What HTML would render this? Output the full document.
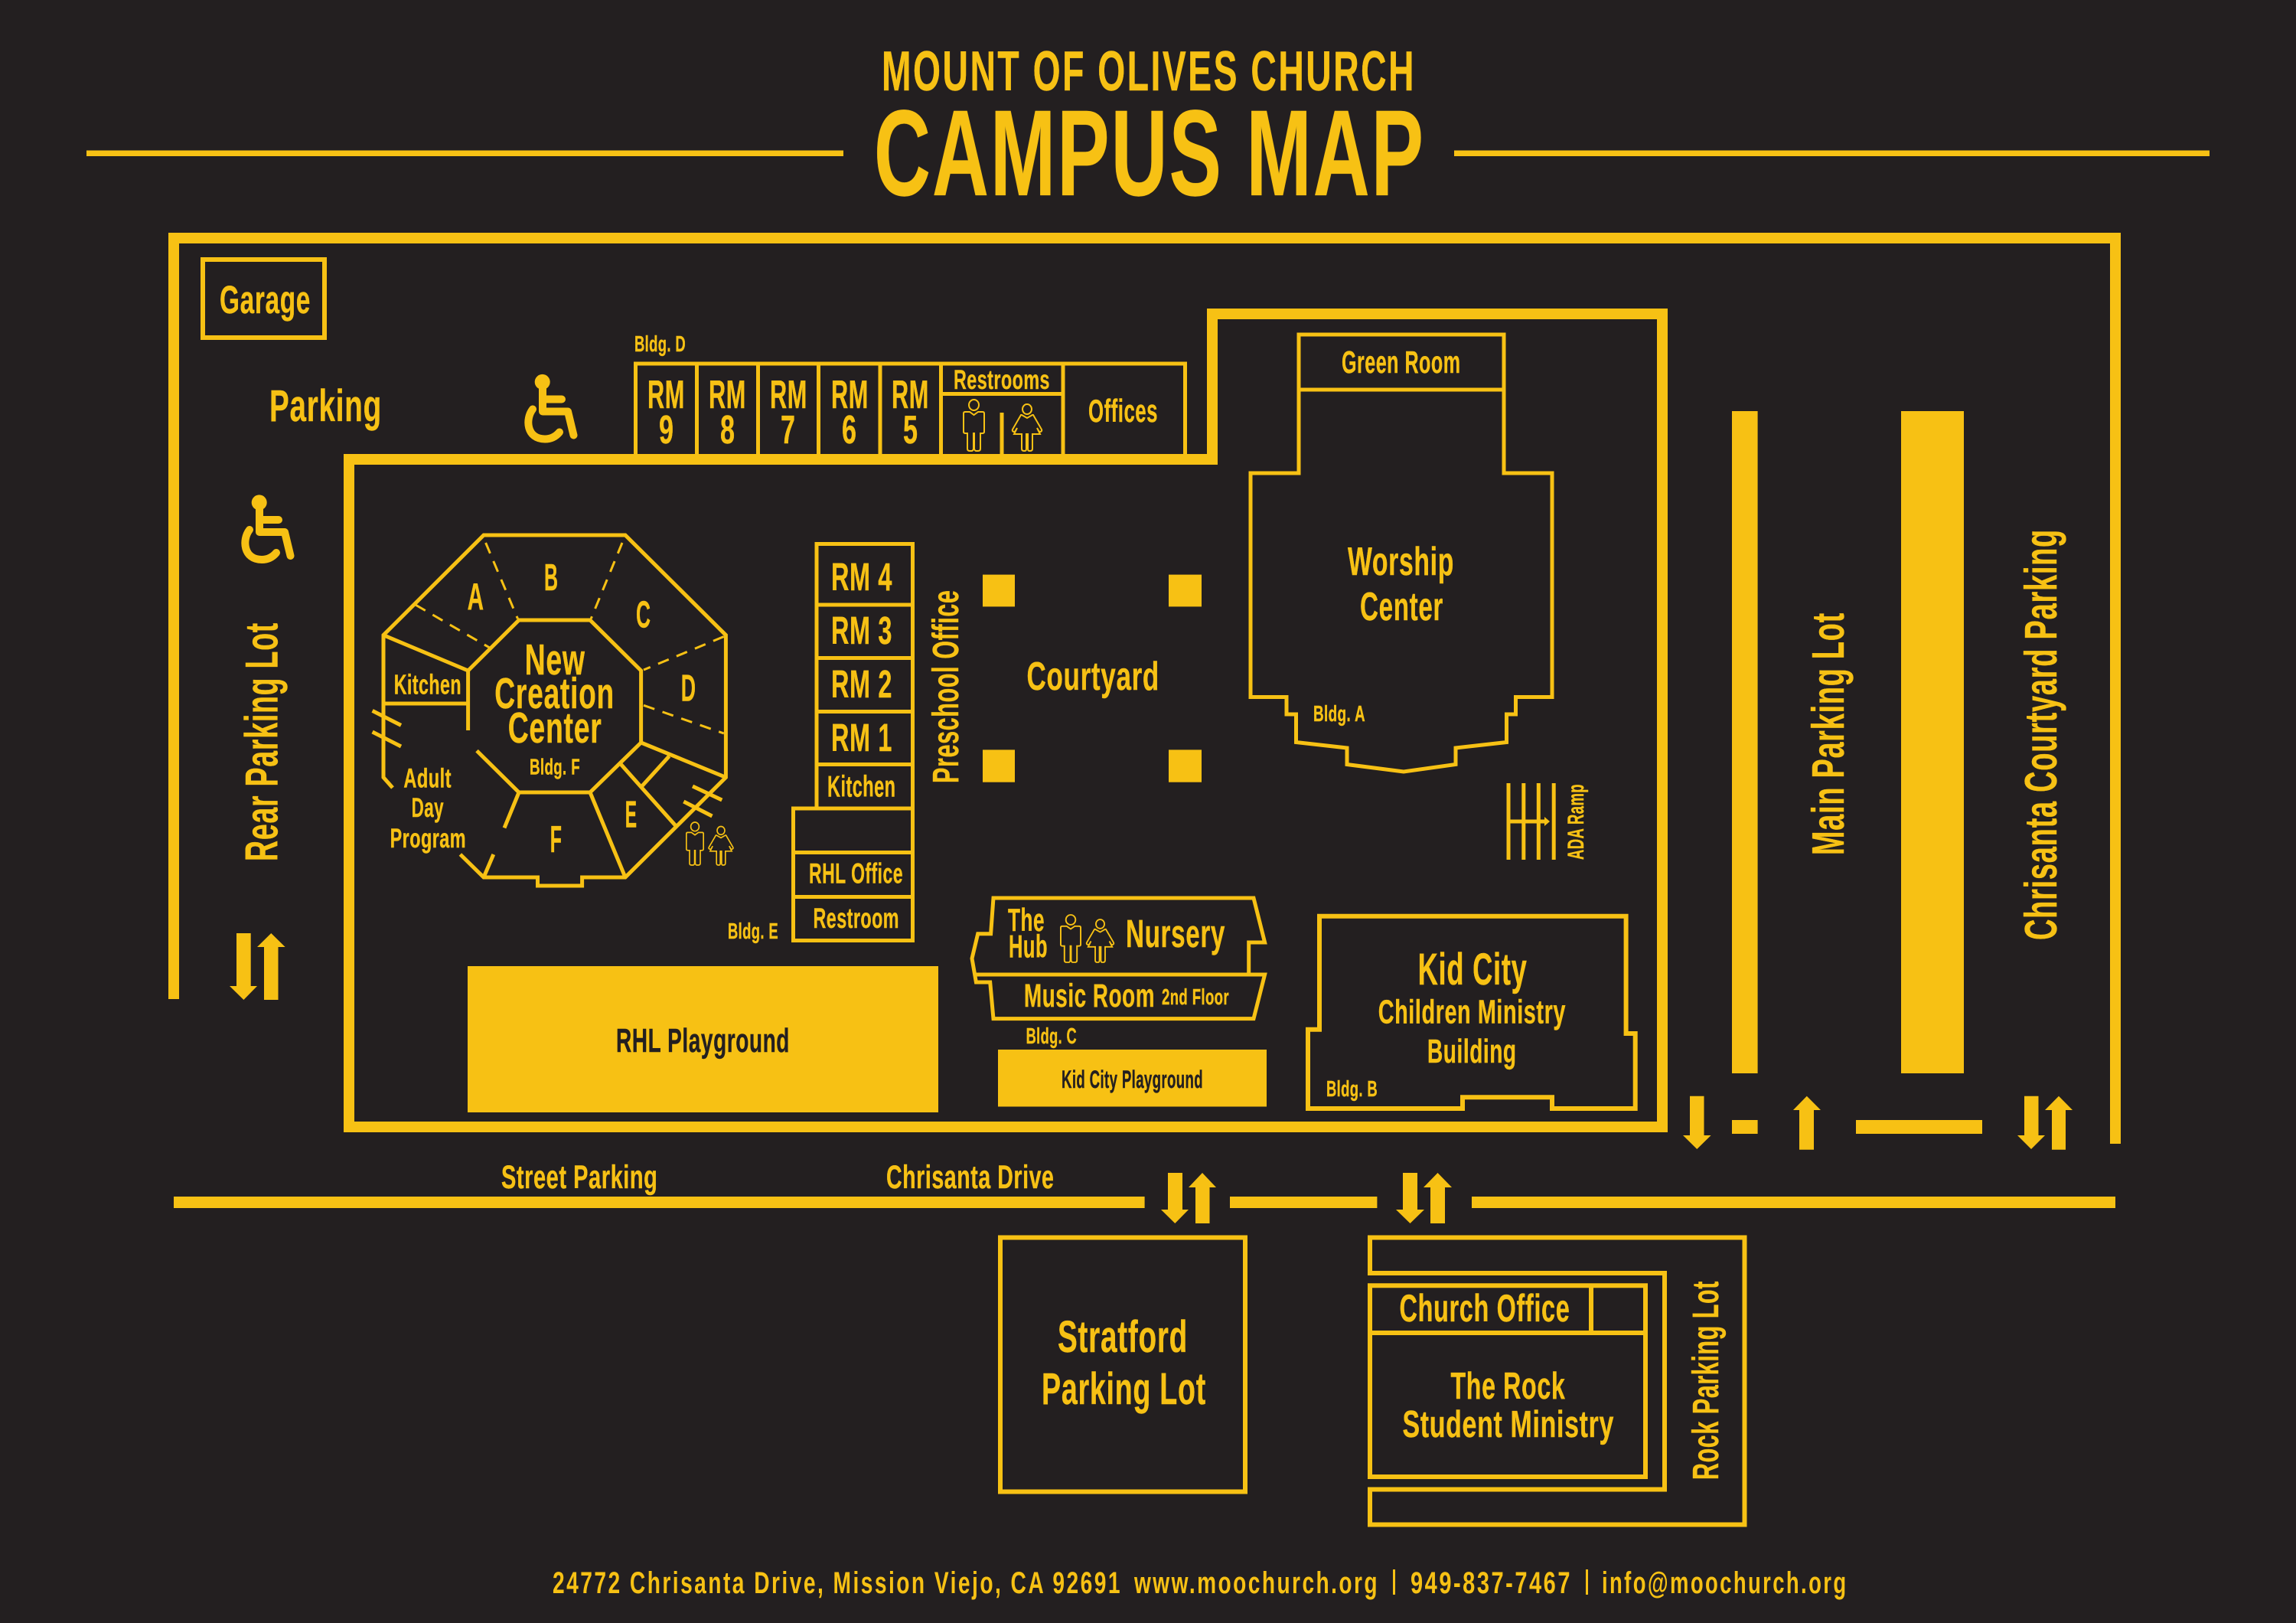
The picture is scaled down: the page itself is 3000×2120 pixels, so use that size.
<!DOCTYPE html>
<html lang="en">
<head>
<meta charset="utf-8">
<title>Mount of Olives Church Campus Map</title>
<style>
html,body{margin:0;padding:0;background:#231f20;width:3000px;height:2120px;overflow:hidden}
svg{display:block}
text{font-family:"Liberation Sans Narrow","Liberation Sans",sans-serif;font-weight:700;fill:#f7c114;stroke:#f7c114;stroke-width:.4px;letter-spacing:.02em}
text.d{fill:#231f20;stroke:#231f20}
text.o{letter-spacing:0}
text.ft{letter-spacing:3.5px;stroke-width:0}
text.tt{letter-spacing:4px}
.s5{fill:none;stroke:#f7c114;stroke-width:5}
.s6{fill:none;stroke:#f7c114;stroke-width:6}
.s14{fill:none;stroke:#f7c114;stroke-width:14}
.dash{fill:none;stroke:#f7c114;stroke-width:3;stroke-dasharray:15 11}
.f{fill:#f7c114}
.p{fill:none;stroke:#f7c114;stroke-width:2}
</style>
</head>
<body>
<svg width="3000" height="2120" viewBox="0 0 3000 2120" xmlns="http://www.w3.org/2000/svg">
<defs>
<symbol id="man" viewBox="0 0 29 67" preserveAspectRatio="none" overflow="visible">
<ellipse class="p" cx="14.5" cy="7" rx="6.5" ry="7"/>
<path class="p" d="M1 18Q1 16 3 16H9L14.5 20L20 16H26Q28 16 28 18V42Q28 44 25 44H23V64Q23 67 20 67H17.5Q15.5 67 15 64V44H14V64Q13.5 67 11.5 67H9Q6 67 6 64V44H4Q1 44 1 42Z"/>
</symbol>
<symbol id="woman" viewBox="0 0 40 61" preserveAspectRatio="none" overflow="visible">
<ellipse class="p" cx="20" cy="6.5" rx="6" ry="6.5"/>
<path class="p" d="M13 14L20 18L27 14H28L39 33Q40 36 36 36L33 31L37 39H27V58Q27 61 24 61H23Q21 61 21 58V39H19V58Q19 61 17 61H16Q13 61 13 58V39H3L7 31L4 36Q0 36 1 33L12 14Z"/>
</symbol>
<g id="wc">
<circle class="f" cx="338.7" cy="656.4" r="10"/>
<path d="M339 660V695H372L379.5 726M339 679H364M326 692C316 705 318 731 342 731C350 731 356 728 361 722" fill="none" stroke="#f7c114" stroke-width="10" stroke-linecap="round" stroke-linejoin="round"/>
</g>
</defs>

<rect width="3000" height="2120" fill="#231f20"/>

<!-- Header -->
<text class="tt" x="1152" y="118" font-size="73" textLength="698" lengthAdjust="spacingAndGlyphs">MOUNT OF OLIVES CHURCH</text>
<text x="1142" y="255" font-size="160" textLength="720" lengthAdjust="spacingAndGlyphs">CAMPUS MAP</text>
<rect class="f" x="113" y="196.5" width="989" height="7.5"/>
<rect class="f" x="1900" y="196.5" width="987" height="7.5"/>

<!-- Outer site wall -->
<path class="s14" d="M227 1305V311H2764V1494"/>

<!-- Main building wall -->
<path class="s14" d="M456 600H1584V410H2172V1472H456Z"/>

<!-- Garage -->
<rect class="s6" x="265" y="339" width="159" height="102"/>
<text x="287" y="409" font-size="51" textLength="119" lengthAdjust="spacingAndGlyphs">Garage</text>
<text x="352" y="550" font-size="58" textLength="147" lengthAdjust="spacingAndGlyphs">Parking</text>

<!-- Wheelchair -->
<use href="#wc"/>
<use href="#wc" transform="translate(370,-157.5)"/>

<!-- Bldg D -->
<text x="829" y="459" font-size="29" textLength="67" lengthAdjust="spacingAndGlyphs">Bldg. D</text>
<path class="s5" d="M830.5 593V475H1548.5V593M910.5 475V593M990.5 475V593M1069.5 475V593M1150 475V593M1229.5 475V593M1389 475V593M1229.5 514.5H1389M1309 539V593"/>
<text x="846" y="533" font-size="52" textLength="49" lengthAdjust="spacingAndGlyphs">RM</text>
<text x="926" y="533" font-size="52" textLength="49" lengthAdjust="spacingAndGlyphs">RM</text>
<text x="1006" y="533" font-size="52" textLength="49" lengthAdjust="spacingAndGlyphs">RM</text>
<text x="1086" y="533" font-size="52" textLength="49" lengthAdjust="spacingAndGlyphs">RM</text>
<text x="1165" y="533" font-size="52" textLength="49" lengthAdjust="spacingAndGlyphs">RM</text>
<text class="o" x="861" y="579" font-size="52" textLength="19" lengthAdjust="spacingAndGlyphs">9</text>
<text class="o" x="941" y="579" font-size="52" textLength="19" lengthAdjust="spacingAndGlyphs">8</text>
<text class="o" x="1020" y="579" font-size="52" textLength="19" lengthAdjust="spacingAndGlyphs">7</text>
<text class="o" x="1100" y="579" font-size="52" textLength="19" lengthAdjust="spacingAndGlyphs">6</text>
<text class="o" x="1180" y="579" font-size="52" textLength="19" lengthAdjust="spacingAndGlyphs">5</text>
<text x="1246" y="508" font-size="35" textLength="126" lengthAdjust="spacingAndGlyphs">Restrooms</text>
<text x="1422" y="551" font-size="42" textLength="91" lengthAdjust="spacingAndGlyphs">Offices</text>
<use href="#man" x="1258" y="522" width="29" height="67"/>
<use href="#woman" x="1322" y="528" width="40" height="61"/>

<!-- Worship Center -->
<path class="s5" d="M1697 618V437H1965V618H2028V910.5H1980.5V933H1968.5V969.5L1902 977V998.5L1834 1008L1760 998.5V977L1693.5 969.5V933H1681V910.5H1634V618ZM1697 509H1965"/>
<text x="1753" y="487" font-size="41" textLength="155.5" lengthAdjust="spacingAndGlyphs">Green Room</text>
<text x="1761" y="751" font-size="52" textLength="139" lengthAdjust="spacingAndGlyphs">Worship</text>
<text x="1777" y="810" font-size="52" textLength="109" lengthAdjust="spacingAndGlyphs">Center</text>
<text x="1716" y="942" font-size="29" textLength="68" lengthAdjust="spacingAndGlyphs">Bldg. A</text>

<!-- ADA ramp -->
<path class="s5" d="M1971 1023V1123M1990.8 1023V1123M2010.3 1023V1123M2030.2 1023V1123M1971 1073H2019"/>
<polygon class="f" points="2018,1067 2025,1073 2018,1079"/>
<text transform="translate(2069,1123) rotate(-90)" font-size="30" textLength="99" lengthAdjust="spacingAndGlyphs">ADA Ramp</text>

<!-- Courtyard -->
<text x="1341.5" y="901" font-size="52" textLength="173.5" lengthAdjust="spacingAndGlyphs">Courtyard</text>
<rect class="f" x="1284" y="750.6" width="42" height="41.8"/>
<rect class="f" x="1527" y="750.6" width="43" height="41.8"/>
<rect class="f" x="1284" y="979.4" width="42" height="42.3"/>
<rect class="f" x="1527" y="979.4" width="43" height="42.3"/>
<text transform="translate(1252,1023) rotate(-90)" font-size="48" textLength="252.5" lengthAdjust="spacingAndGlyphs">Preschool Office</text>

<!-- Bldg E stack -->
<path class="s5" d="M1067 1056V710.5H1192.5V1228.5H1036.5V1056H1192.5M1067 790H1192.5M1067 859.5H1192.5M1067 929.5H1192.5M1067 998.5H1192.5M1036.5 1113.5H1192.5M1036.5 1171.5H1192.5"/>
<text x="1086" y="771" font-size="51" textLength="80" lengthAdjust="spacingAndGlyphs">RM 4</text>
<text x="1086" y="841" font-size="51" textLength="80" lengthAdjust="spacingAndGlyphs">RM 3</text>
<text x="1086" y="911" font-size="51" textLength="80" lengthAdjust="spacingAndGlyphs">RM 2</text>
<text x="1086" y="981" font-size="51" textLength="80" lengthAdjust="spacingAndGlyphs">RM 1</text>
<text x="1081" y="1040.6" font-size="38.5" textLength="89.5" lengthAdjust="spacingAndGlyphs">Kitchen</text>
<text x="1057" y="1153.5" font-size="37.5" textLength="123" lengthAdjust="spacingAndGlyphs">RHL Office</text>
<text x="1062.5" y="1212" font-size="37.5" textLength="112.5" lengthAdjust="spacingAndGlyphs">Restroom</text>
<text x="951" y="1226" font-size="29" textLength="66" lengthAdjust="spacingAndGlyphs">Bldg. E</text>

<!-- Playgrounds -->
<rect class="f" x="611" y="1262" width="615" height="191"/>
<text class="d" x="805" y="1374" font-size="44" textLength="227" lengthAdjust="spacingAndGlyphs">RHL Playground</text>
<rect class="f" x="1304" y="1371" width="351" height="74.5"/>
<text class="d" x="1387" y="1421" font-size="32" textLength="185" lengthAdjust="spacingAndGlyphs">Kid City Playground</text>

<!-- Bldg C -->
<path class="s5" d="M1298 1173H1638L1652.6 1231H1631.7V1273H1652.6L1638 1330.6H1298L1293.7 1283H1275.4L1270 1252L1277.7 1219.7H1294.6ZM1272 1273H1631.7"/>
<text x="1317" y="1216" font-size="42" textLength="48" lengthAdjust="spacingAndGlyphs">The</text>
<text x="1318" y="1250.5" font-size="42" textLength="51" lengthAdjust="spacingAndGlyphs">Hub</text>
<use href="#man" x="1385" y="1195" width="28" height="62"/>
<use href="#woman" x="1419" y="1201" width="37" height="56"/>
<text x="1471" y="1237" font-size="51" textLength="130" lengthAdjust="spacingAndGlyphs">Nursery</text>
<text x="1338" y="1315" font-size="43" textLength="171" lengthAdjust="spacingAndGlyphs">Music Room</text>
<text x="1518" y="1312" font-size="29" textLength="88" lengthAdjust="spacingAndGlyphs">2nd Floor</text>
<text x="1340.6" y="1363" font-size="29" textLength="66.4" lengthAdjust="spacingAndGlyphs">Bldg. C</text>

<!-- Kid City -->
<path class="s6" d="M1724 1344.7V1196.7H2124.6V1350H2136.7V1448H2028V1433.3H1911V1448H1709V1344.7Z"/>
<text x="1852.6" y="1286" font-size="58" textLength="143" lengthAdjust="spacingAndGlyphs">Kid City</text>
<text x="1800.7" y="1336.7" font-size="44" textLength="245.3" lengthAdjust="spacingAndGlyphs">Children Ministry</text>
<text x="1865" y="1388" font-size="44" textLength="116.6" lengthAdjust="spacingAndGlyphs">Building</text>
<text x="1733" y="1432" font-size="29" textLength="67" lengthAdjust="spacingAndGlyphs">Bldg. B</text>

<!-- Right parking -->
<rect class="f" x="2263" y="537" width="33.6" height="865"/>
<rect class="f" x="2484" y="537" width="82" height="865"/>
<rect class="f" x="2263" y="1463" width="33.6" height="18"/>
<rect class="f" x="2425" y="1463" width="165" height="18"/>
<text transform="translate(2409,1117) rotate(-90)" font-size="59" textLength="317" lengthAdjust="spacingAndGlyphs">Main Parking Lot</text>
<text transform="translate(2687,1228) rotate(-90)" font-size="59" textLength="537" lengthAdjust="spacingAndGlyphs">Chrisanta Courtyard Parking</text>
<text transform="translate(362.6,1125) rotate(-90)" font-size="60" textLength="312" lengthAdjust="spacingAndGlyphs">Rear Parking Lot</text>

<!-- Arrows -->
<g class="f">
<polygon points="309,1219 327.7,1219 327.7,1288 336,1288 318.4,1306 300,1288 309,1288"/>
<polygon points="354.3,1219 372.6,1237 363.5,1237 363.5,1306 345,1306 345,1237 336,1237"/>
<polygon points="2208,1431.7 2226.5,1431.7 2226.5,1483 2235.6,1483 2217.3,1501 2199,1483 2208,1483"/>
<polygon points="2360.8,1431.7 2379,1450 2370,1450 2370,1501.7 2351,1501.7 2351,1450 2343,1450"/>
<polygon points="2645,1431.7 2663.5,1431.7 2663.5,1483 2672,1483 2654,1501 2636,1483 2645,1483"/>
<polygon points="2690,1431.7 2708,1450 2699,1450 2699,1501.7 2681,1501.7 2681,1450 2672,1450"/>
<polygon points="1526,1532 1545,1532 1545,1580 1553,1580 1535.3,1598 1517,1580 1526,1580"/>
<polygon points="1571,1532 1589,1551 1580.5,1551 1580.5,1598 1562,1598 1562,1551 1553,1551"/>
<polygon points="1833,1532 1852,1532 1852,1580 1861,1580 1842.5,1598 1824,1580 1833,1580"/>
<polygon points="1878.5,1532 1897,1551 1888,1551 1888,1598 1869,1598 1869,1551 1860,1551"/>
</g>

<!-- Street -->
<rect class="f" x="227" y="1563" width="1268.6" height="15"/>
<rect class="f" x="1607" y="1563" width="192.4" height="15"/>
<rect class="f" x="1923" y="1563" width="841" height="15"/>
<text x="655" y="1552" font-size="43" textLength="204.4" lengthAdjust="spacingAndGlyphs">Street Parking</text>
<text x="1158" y="1552" font-size="43" textLength="219.5" lengthAdjust="spacingAndGlyphs">Chrisanta Drive</text>

<!-- Stratford -->
<rect class="s6" x="1307" y="1616.5" width="320" height="332"/>
<text x="1382" y="1766" font-size="58" textLength="170" lengthAdjust="spacingAndGlyphs">Stratford</text>
<text x="1361" y="1834" font-size="58" textLength="215" lengthAdjust="spacingAndGlyphs">Parking Lot</text>

<!-- Rock -->
<path class="s6" d="M1790 1663V1616.5H2279.5V1991.5H1790V1945.5H2175V1663Z"/>
<path class="s6" d="M1790 1679.3H2150V1929H1790ZM1790 1741H2150M2079 1679.3V1741"/>
<text x="1828.5" y="1726" font-size="50" textLength="222.9" lengthAdjust="spacingAndGlyphs">Church Office</text>
<text x="1895.5" y="1827" font-size="49" textLength="149.9" lengthAdjust="spacingAndGlyphs">The Rock</text>
<text x="1832.5" y="1877" font-size="49" textLength="276.5" lengthAdjust="spacingAndGlyphs">Student Ministry</text>
<text transform="translate(2245,1933) rotate(-90)" font-size="48" textLength="260" lengthAdjust="spacingAndGlyphs">Rock Parking Lot</text>

<!-- New Creation Center octagon -->
<path class="s5" d="M601.4 1116L632 1146H702.5V1157H760.6V1146H817L948.4 1015.4V829.6L817 699H632L501 829.6V1015.4L513 1029"/>
<path class="s5" d="M623 980.6L678 1035H771L837.6 970V876L771 810H678L611.6 876V954"/>
<path class="s5" d="M501 829.6L611.6 876M501 919H611.6M837.6 970L948.4 1015.4M810.6 997.6L884.6 1080.6M838.7 1027L874.4 987.7M771 1035L817 1146M678 1035L659 1081.4M644.8 1116L632 1146M486.6 928.4L524 947.4M486.6 956L524 975M905 1027L943.3 1045M893.3 1047L930.5 1066"/>
<path class="dash" d="M542.8 790L639.7 846M634.6 709L676.4 808M813 709L772.3 808M945.8 831.5L841 875M841 921.3L945.8 958"/>
<text x="685.6" y="881" font-size="57" textLength="79.1" lengthAdjust="spacingAndGlyphs">New</text>
<text x="646.3" y="925" font-size="57" textLength="156.7" lengthAdjust="spacingAndGlyphs">Creation</text>
<text x="663.7" y="970" font-size="57" textLength="122.9" lengthAdjust="spacingAndGlyphs">Center</text>
<text x="692" y="1011.4" font-size="29" textLength="66" lengthAdjust="spacingAndGlyphs">Bldg. F</text>
<text class="o" x="610.6" y="796" font-size="49" textLength="21.4" lengthAdjust="spacingAndGlyphs">A</text>
<text class="o" x="711" y="771" font-size="49" textLength="18" lengthAdjust="spacingAndGlyphs">B</text>
<text class="o" x="831" y="819.7" font-size="49" textLength="19" lengthAdjust="spacingAndGlyphs">C</text>
<text class="o" x="889.7" y="915.4" font-size="49" textLength="19.3" lengthAdjust="spacingAndGlyphs">D</text>
<text class="o" x="816.7" y="1080.6" font-size="49" textLength="15.3" lengthAdjust="spacingAndGlyphs">E</text>
<text class="o" x="718.8" y="1113" font-size="49" textLength="15.2" lengthAdjust="spacingAndGlyphs">F</text>
<text x="514.7" y="906.7" font-size="36.5" textLength="88.3" lengthAdjust="spacingAndGlyphs">Kitchen</text>
<text x="527.4" y="1028.5" font-size="35" textLength="62.6" lengthAdjust="spacingAndGlyphs">Adult</text>
<text x="537.6" y="1067" font-size="35" textLength="42.4" lengthAdjust="spacingAndGlyphs">Day</text>
<text x="509.6" y="1107" font-size="35" textLength="99.4" lengthAdjust="spacingAndGlyphs">Program</text>
<use href="#man" x="896" y="1074" width="24" height="56"/>
<use href="#woman" x="925.4" y="1079.5" width="33.2" height="50.5"/>

<!-- Footer -->
<text class="ft" x="722" y="2081" font-size="40" textLength="744" lengthAdjust="spacingAndGlyphs">24772 Chrisanta Drive, Mission Viejo, CA 92691</text>
<text class="ft" x="1482" y="2081" font-size="40" textLength="320" lengthAdjust="spacingAndGlyphs">www.moochurch.org</text>
<rect class="f" x="1820" y="2050" width="3" height="33"/>
<text class="ft" x="1843" y="2081" font-size="40" textLength="211" lengthAdjust="spacingAndGlyphs">949-837-7467</text>
<rect class="f" x="2072" y="2050" width="3" height="33"/>
<text class="ft" x="2093" y="2081" font-size="40" textLength="321.5" lengthAdjust="spacingAndGlyphs">info@moochurch.org</text>
</svg>
</body>
</html>
